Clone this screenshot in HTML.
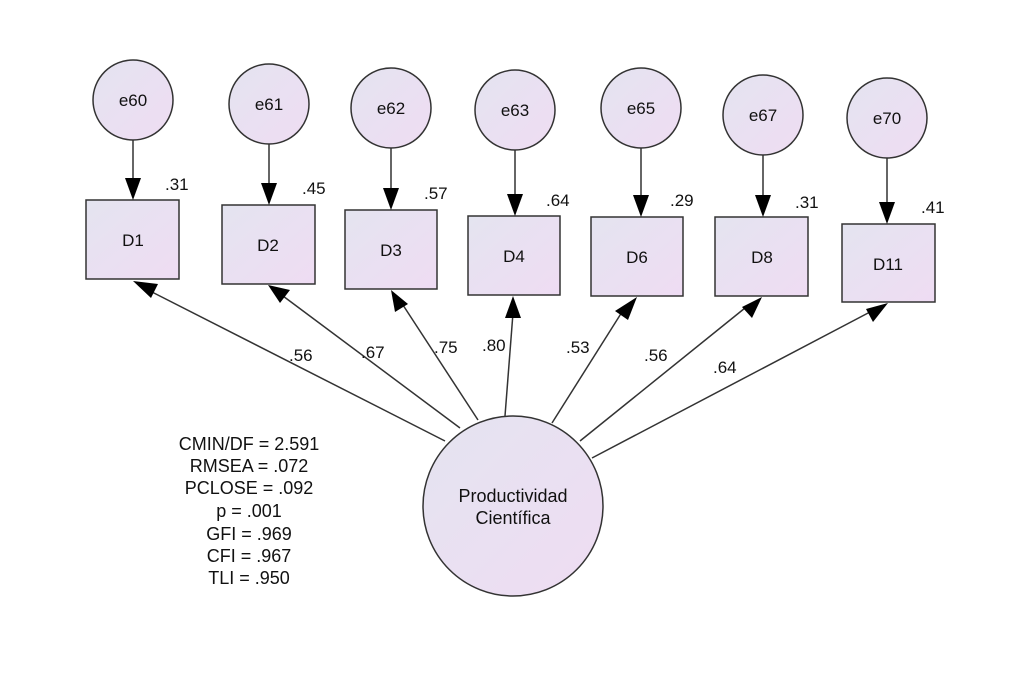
<!DOCTYPE html>
<html><head><meta charset="utf-8"><style>
html,body{margin:0;padding:0;background:#fff;}
svg{display:block;}
text{font-family:"Liberation Sans",sans-serif;fill:#111;}
</style></head><body>
<svg width="1026" height="683" viewBox="0 0 1026 683">
<defs>
<linearGradient id="g" x1="0" y1="0" x2="1" y2="1">
<stop offset="0" stop-color="#e4e4f0"/><stop offset="1" stop-color="#efdcf3"/>
</linearGradient>
</defs>
<g stroke="#333" stroke-width="1.5" fill="url(#g)">
<circle cx="133" cy="100" r="40"/>
<circle cx="269" cy="104" r="40"/>
<circle cx="391" cy="108" r="40"/>
<circle cx="515" cy="110" r="40"/>
<circle cx="641" cy="108" r="40"/>
<circle cx="763" cy="115" r="40"/>
<circle cx="887" cy="118" r="40"/>
<rect x="86" y="200" width="93" height="79"/>
<rect x="222" y="205" width="93" height="79"/>
<rect x="345" y="210" width="92" height="79"/>
<rect x="468" y="216" width="92" height="79"/>
<rect x="591" y="217" width="92" height="79"/>
<rect x="715" y="217" width="93" height="79"/>
<rect x="842" y="224" width="93" height="78"/>
<circle cx="513" cy="506" r="90"/>
</g>
<g stroke="#333" stroke-width="1.5">
<line x1="133" y1="140" x2="133" y2="180"/>
<line x1="269" y1="144" x2="269" y2="185"/>
<line x1="391" y1="148" x2="391" y2="190"/>
<line x1="515" y1="150" x2="515" y2="196"/>
<line x1="641" y1="148" x2="641" y2="197"/>
<line x1="763" y1="155" x2="763" y2="197"/>
<line x1="887" y1="158" x2="887" y2="204"/>
<line x1="445" y1="441" x2="150" y2="291"/>
<line x1="460" y1="428" x2="283" y2="296"/>
<line x1="478" y1="420" x2="401" y2="302"/>
<line x1="505" y1="416" x2="513" y2="313"/>
<line x1="552" y1="423" x2="622" y2="312"/>
<line x1="580" y1="441" x2="745" y2="308"/>
<line x1="592" y1="458" x2="870" y2="312"/>
</g>
<g fill="#000">
<polygon points="133,200 125,178 141,178"/>
<polygon points="269,205 261,183 277,183"/>
<polygon points="391,210 383,188 399,188"/>
<polygon points="515,216 507,194 523,194"/>
<polygon points="641,217 633,195 649,195"/>
<polygon points="763,217 755,195 771,195"/>
<polygon points="887,224 879,202 895,202"/>
<polygon points="133,281 158,284 151,298"/>
<polygon points="268,285 290,290 280,303"/>
<polygon points="391,290 408,304 395,312"/>
<polygon points="513,296 521,318 505,318"/>
<polygon points="637,297 628,320 615,311"/>
<polygon points="762,297 752,318 742,307"/>
<polygon points="888,303 873,322 866,309"/>
</g>
<g font-size="17" text-anchor="middle">
<text x="133" y="106">e60</text><text x="269" y="110">e61</text><text x="391" y="114">e62</text>
<text x="515" y="116">e63</text><text x="641" y="114">e65</text><text x="763" y="121">e67</text><text x="887" y="124">e70</text>
<text x="133" y="246">D1</text><text x="268" y="251">D2</text><text x="391" y="256">D3</text>
<text x="514" y="262">D4</text><text x="637" y="263">D6</text><text x="762" y="263">D8</text><text x="888" y="270">D11</text>
</g>
<g font-size="17">
<text x="165" y="190">.31</text><text x="302" y="194">.45</text><text x="424" y="199">.57</text>
<text x="546" y="206">.64</text><text x="670" y="206">.29</text><text x="795" y="208">.31</text><text x="921" y="213">.41</text>
<text x="289" y="361">.56</text><text x="361" y="358">.67</text><text x="434" y="353">.75</text>
<text x="482" y="351">.80</text><text x="566" y="353">.53</text><text x="644" y="361">.56</text><text x="713" y="373">.64</text>
</g>
<g font-size="18" text-anchor="middle">
<text x="513" y="502">Productividad</text>
<text x="513" y="524">Científica</text>
<text x="249" y="450">CMIN/DF = 2.591</text>
<text x="249" y="472">RMSEA = .072</text>
<text x="249" y="494">PCLOSE = .092</text>
<text x="249" y="517">p = .001</text>
<text x="249" y="540">GFI = .969</text>
<text x="249" y="562">CFI = .967</text>
<text x="249" y="584">TLI = .950</text>
</g>
</svg>
</body></html>
